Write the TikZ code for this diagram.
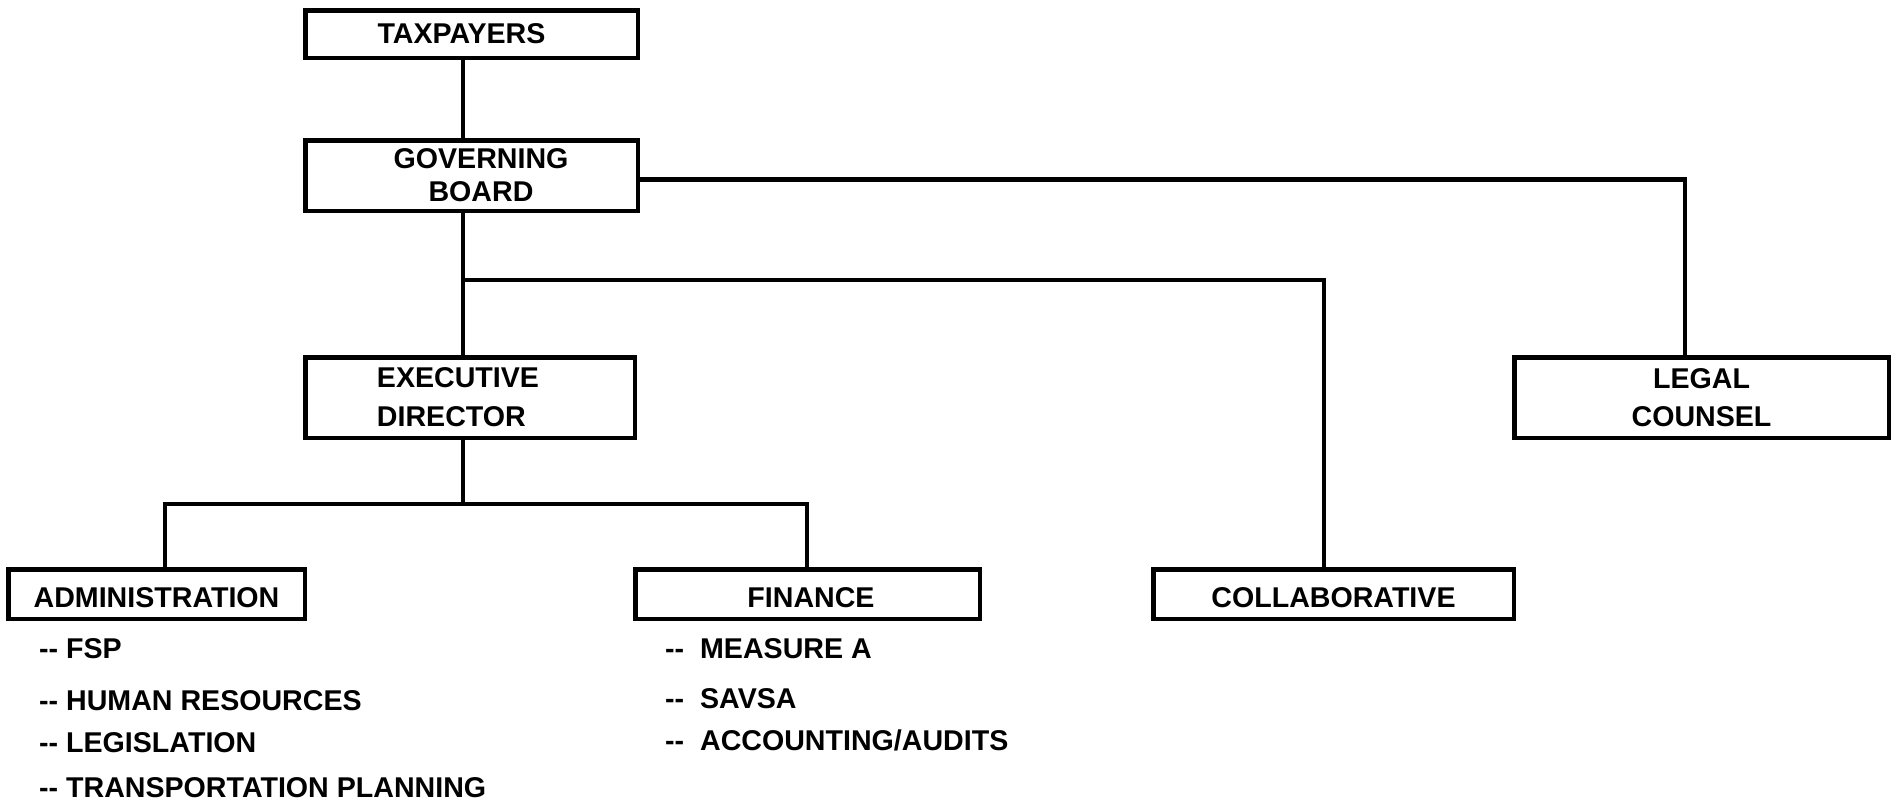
\documentclass[tikz,border=0pt]{standalone}
\usepackage{fontspec}
\setmainfont{Liberation Sans}
\def\dd{-\kern0pt-}
\newcommand\padd[1]{\rule{#1}{0pt}}
\begin{document}
\begin{tikzpicture}[x=1pt,y=-1pt,
  box/.style={draw=black, line width=4.5pt, fill=white, inner sep=0pt, align=center,
    font=\fontsize{28.6}{33}\selectfont\bfseries},
  lowbox/.style={box, minimum height=49.5pt, text height=26.5pt, text depth=0pt},
  item/.style={anchor=base west, inner sep=0pt, font=\fontsize{28.6}{33}\selectfont\bfseries},
  conn/.style={draw=black, line width=4.5pt, line join=miter}]
\useasboundingbox (0,0) rectangle (1898,807);
\node[box, minimum width=332.5pt, minimum height=47.5pt] (tax) at (471.5,34) {TAXPAYERS\padd{20pt}};
\node[box, minimum width=332.5pt, minimum height=70.5pt] (gb) at (471.5,175.5) {\padd{19pt}GOVERNING\\\padd{19pt}BOARD};
\node[box, minimum width=329.5pt, minimum height=80.5pt, align=left] (ed) at (470,397.5) {EXECUTIVE\padd{24pt}\\[6pt]DIRECTOR};
\node[box, minimum width=374.5pt, minimum height=80.5pt] (legal) at (1701.5,397.5) {LEGAL\\[5pt]COUNSEL};
\node[lowbox, minimum width=296.5pt] (admin) at (156.5,594) {ADMINISTRATION};
\node[lowbox, minimum width=344.5pt] (fin) at (807.5,594) {\padd{7pt}FINANCE};
\node[lowbox, minimum width=360.5pt] (collab) at (1333.5,594) {COLLABORATIVE};

\coordinate (spine) at (463,0);
\coordinate (lc) at (1685,179.5);
\coordinate (cb) at (1324,280);
\coordinate (eb) at (463,504);
\coordinate (al) at (165,504);
\coordinate (fr) at (807,504);

\draw[conn] (tax.south -| spine) -- (gb.north -| spine);
\draw[conn] (gb.south -| spine) -- (ed.north -| spine);
\draw[conn] (gb.east |- lc) -- (lc) -- (legal.north -| lc);
\draw[conn] (cb -| spine) -- (cb) -- (collab.north -| cb);
\draw[conn] (ed.south -| spine) -- (eb);
\draw[conn] (admin.north -| al) -- (al) -- (fr) -- (fin.north -| fr);

\node[item] (a1) at (39,658) {\dd\ FSP};
\node[item] (a2) at (39,710) {\dd\ HUMAN RESOURCES};
\node[item] (a3) at (39,752) {\dd\ LEGISLATION};
\node[item] (a4) at (39,797) {\dd\ TRANSPORTATION PLANNING};
\node[item] (f1) at (665,658) {\dd\ \ MEASURE A};
\node[item] (f2) at (665,708) {\dd\ \ SAVSA};
\node[item] (f3) at (665,750) {\dd\ \ ACCOUNTING/AUDITS};
\end{tikzpicture}
\end{document}
